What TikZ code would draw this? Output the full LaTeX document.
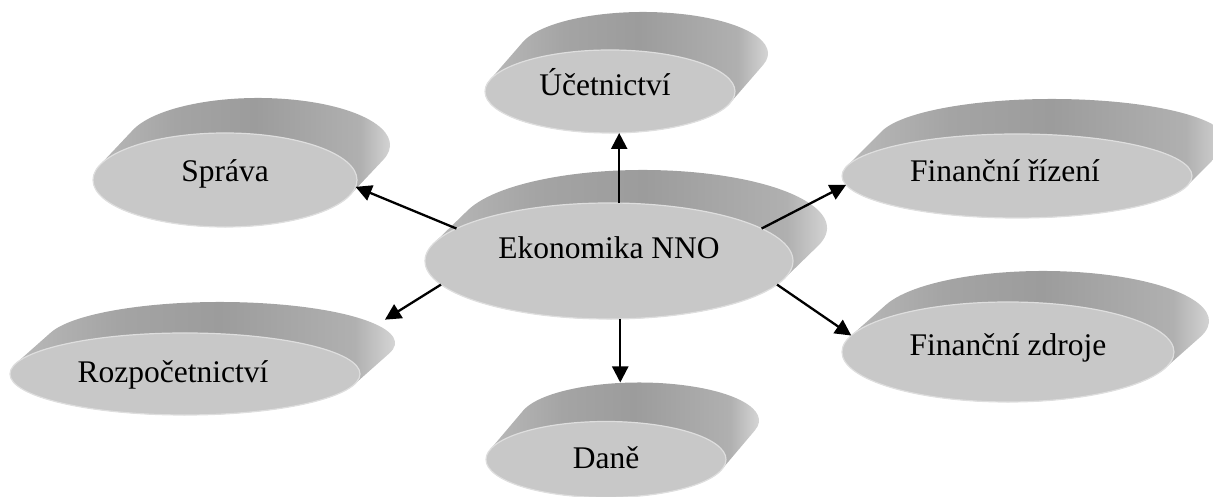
\documentclass[tikz,border=0pt]{standalone}
\usepackage{fontspec}
\setmainfont{Liberation Serif}
\usetikzlibrary{shapes.geometric,arrows.meta,calc}
\definecolor{frontc}{HTML}{C8C8C8}
\definecolor{rimc}{HTML}{DEDEDE}
\definecolor{sA}{HTML}{BEBEBE}
\definecolor{sB}{HTML}{A4A4A4}
\definecolor{sC}{HTML}{9C9C9C}
\definecolor{sD}{HTML}{B0B0B0}
\definecolor{sE}{HTML}{E6E6E6}
\pgfdeclarehorizontalshading{discshade}{100bp}{color(0bp)=(sA); color(25bp)=(sA); color(40bp)=(sB); color(52bp)=(sC); color(68bp)=(sD); color(75bp)=(sE); color(100bp)=(sE)}
% #1 name, #2 cx, #3 cy, #4 rx, #5 ry, #6 dx, #7 dy, #8 text depth, #9 text
\newcommand\mydisc[9]{%
  \pgfmathsetmacro\tz{atan(-(#5*#6)/(#4*#7))}%
  \pgfmathsetmacro\tb{\tz+180}%
  \shade[shading=discshade] ($(#2,#3)+(\tb:#4 and #5)$) -- ++(#6,#7)
     arc[start angle=\tb, end angle=\tz, x radius=#4, y radius=#5]
     -- ($(#2,#3)+(\tz:#4 and #5)$)
     arc[start angle=\tz, end angle=\tz-180, x radius=#4, y radius=#5] -- cycle;
  \node[backe, minimum width=2*#4, minimum height=2*#5] (#1b) at (#2+#6,#3+#7) {};
  \node[front, minimum width=2*#4, minimum height=2*#5, text depth=#8] (#1) at (#2,#3) {#9};
}
\begin{document}
\begin{tikzpicture}[x=1pt,y=1pt,
  front/.style={ellipse, fill=frontc, draw=rimc, line width=1.2pt, inner sep=0pt, outer sep=0pt,
                font=\fontsize{31.5}{36}\selectfont, text height=21pt},
  backe/.style={ellipse, inner sep=0pt, outer sep=0pt},
  arr/.style={line width=2.3pt, -{Triangle[length=16pt,width=16pt]}}]
\useasboundingbox (0,0) rectangle (1213,497);
\mydisc{c}{609}{236}{184}{58}{34}{33}{26pt}{Ekonomika NNO}
\mydisc{u}{610}{405.5}{125}{41.5}{33}{38}{12pt}{Účetnictví\hspace*{10pt}}
\mydisc{s}{225}{317}{132}{47}{33}{35}{18pt}{Správa}
\mydisc{fr}{1017}{321}{175}{42}{35}{35}{10pt}{Finanční řízení\hspace*{24pt}}
\mydisc{r}{185}{123}{175}{41}{35}{31}{4pt}{Rozpočetnictví\hspace*{24pt}}
\mydisc{fz}{1008}{145}{166}{50}{35}{31}{14pt}{Finanční zdroje}
\mydisc{d}{606}{37.5}{120}{38}{33}{39}{2pt}{Daně}
\draw[arr] (c.80) -- (c.80 |- u.south);
\draw[arr] (c.-79) -- (c.-79 |- db.north);
\draw[arr] (c.168) -- (s.-3);
\draw[arr] (c.188) -- ($(rb.5)+(1,9)$);
\draw[arr] (c.12.5) -- (fr.183);
\draw[arr] (c.-8) -- (fz.174.6);
\end{tikzpicture}
\end{document}
